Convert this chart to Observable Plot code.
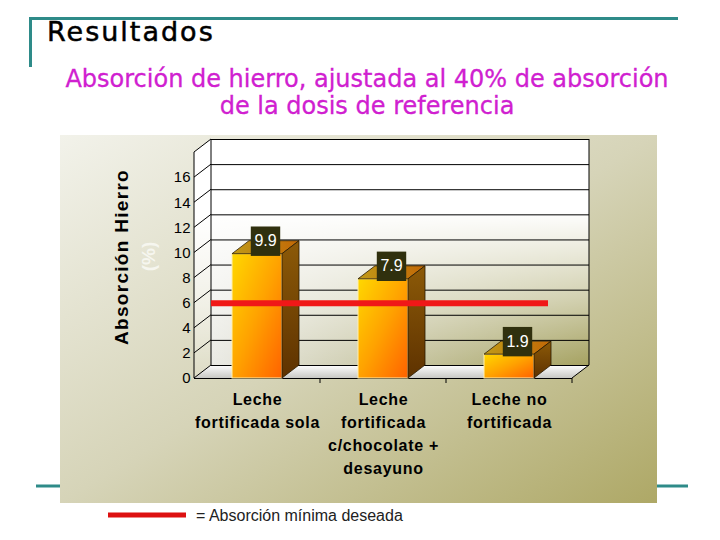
<!DOCTYPE html>
<html><head><meta charset="utf-8">
<script src="https://cdn.jsdelivr.net/npm/d3@7"></script>
<script src="https://cdn.jsdelivr.net/npm/@observablehq/plot@0.6"></script>
<style>
html,body{margin:0;padding:0;background:#fff;}
#page{position:relative;width:720px;height:540px;overflow:hidden;}
#bg{position:absolute;left:0;top:0;}
#chart{position:absolute;left:60px;top:135px;}
</style></head><body>
<div id="page"><svg id="bg" width="720" height="540"></svg><div id="chart"></div></div>
<script>
// ---- data ----
const titleText = "Resultados";
const subtitleLines = ["Absorción de hierro, ajustada al 40% de absorción", "de la dosis de referencia"];
const categories = ["Leche fortificada sola", "Leche fortificada c/chocolate + desayuno", "Leche no fortificada"];
const tickLabels = ["Leche\nfortificada sola", "Leche\nfortificada\nc/chocolate +\ndesayuno", "Leche no\nfortificada"];
const absorption = [9.9, 7.9, 1.9];
const minimumDesired = 6;
const yTicks = [0, 2, 4, 6, 8, 10, 12, 14, 16];
const gridTicks = [0, 2, 4, 6, 8, 10, 12, 14, 16, 18];
const yMax = 18;
const yTitle = "Absorción Hierro";
const yUnit = "(%)";
const legendLabel = "= Absorción mínima deseada";

// ---- styles ----
const teal = "#2e8b89";
const depth = {dx: 17, dy: -13};
const barInset = 38;
const W = 597, H = 368;

// ---- background page (header, decorative lines, legend) ----
const bg = d3.select("#bg");
bg.append("line").attr("x1", 29).attr("x2", 678).attr("y1", 18.5).attr("y2", 18.5).attr("stroke", teal).attr("stroke-width", 3);
bg.append("line").attr("x1", 30.5).attr("x2", 30.5).attr("y1", 17).attr("y2", 67).attr("stroke", teal).attr("stroke-width", 3);
bg.append("line").attr("x1", 36).attr("x2", 688).attr("y1", 486).attr("y2", 486).attr("stroke", teal).attr("stroke-width", 3);
bg.append("text").attr("x", 47).attr("y", 41).attr("font-family", "DejaVu Sans").attr("font-size", 27)
  .attr("letter-spacing", 2).attr("fill", "#000").attr("stroke", "#000").attr("stroke-width", 0.5).text(titleText);
subtitleLines.forEach((s, i) => bg.append("text").attr("x", 367).attr("y", 87 + i * 27)
  .attr("text-anchor", "middle").attr("font-family", "DejaVu Sans").attr("font-size", 24)
  .attr("fill", "#d020d0").attr("stroke", "#d020d0").attr("stroke-width", 0.3).text(s));
bg.append("line").attr("x1", 108).attr("x2", 186).attr("y1", 515).attr("y2", 515).attr("stroke", "#dd1111").attr("stroke-width", 5);
bg.append("text").attr("x", 196).attr("y", 521).attr("font-family", "Liberation Sans").attr("font-size", 16)
  .attr("fill", "#222").text(legendLabel);

// ---- chart ----
const data = categories.map((c, i) => ({category: c, value: absorption[i]}));
const labelOf = new Map(categories.map((c, i) => [c, tickLabels[i]]));

function defsMark() {
  const defs = d3.create("svg:defs");
  const lg = (id, x1, y1, x2, y2, stops) => {
    const g = defs.append("linearGradient").attr("id", id)
      .attr("x1", x1).attr("y1", y1).attr("x2", x2).attr("y2", y2);
    stops.forEach(([o, c, op = 1]) => g.append("stop").attr("offset", o).attr("stop-color", c).attr("stop-opacity", op));
  };
  lg("panelGrad", 0, 0, 1, 1, [[0, "#f2f2ea"], [0.5, "#d6d4b8"], [1, "#aea866"]]);
  lg("wallBase", 0, 0, 1, 0, [[0, "#e8e8e2"], [1, "#9c9850"]]);
  lg("wallShine", 0, 0, 0, 1, [[0, "#fff", 1], [0.32, "#fff", 1], [0.7, "#fff", 0.55], [1, "#fff", 0.1]]);
  lg("floorGrad", 0, 0, 0, 1, [[0, "#ffffff"], [1, "#c8c8c4"]]);
  lg("frontGrad", 0, 0, 1, 1, [[0, "#ffd800"], [0.5, "#ffa200"], [1, "#ff6200"]]);
  lg("topGrad", 0, 0, 1, 0, [[0, "#c09a18"], [1, "#c26806"]]);
  lg("sideGrad", 0, 0, 0, 1, [[0, "#8c5a08"], [1, "#5e3200"]]);
  return defs.node();
}

function panelMark(index, scales, values, dims) {
  return d3.create("svg:rect").attr("x", 0).attr("y", 0)
    .attr("width", dims.width).attr("height", dims.height).attr("fill", "url(#panelGrad)").node();
}

function wallsMark(index, {x, y}, values, {width, marginLeft, marginRight}) {
  const L = marginLeft, R = width - marginRight, b = y(0), t = y(yMax), {dx, dy} = depth;
  const g = d3.create("svg:g");
  g.append("rect").attr("x", L + dx).attr("y", t + dy).attr("width", R - L).attr("height", b - t).attr("fill", "url(#wallBase)");
  g.append("rect").attr("x", L + dx).attr("y", t + dy).attr("width", R - L).attr("height", b - t).attr("fill", "url(#wallShine)");
  g.append("path").attr("d", `M${L},${b}L${L},${t}L${L + dx},${t + dy}L${L + dx},${b + dy}Z`).attr("fill", "url(#wallShine)");
  g.append("path").attr("d", `M${L},${b}L${R},${b}L${R + dx},${b + dy}L${L + dx},${b + dy}Z`).attr("fill", "url(#floorGrad)");
  return g.node();
}

function wallLinesMark(index, {x, y}, values, {width, marginLeft, marginRight}) {
  const L = marginLeft, R = width - marginRight, b = y(0), t = y(yMax), {dx, dy} = depth;
  const g = d3.create("svg:g").attr("stroke", "#000").attr("stroke-width", 1).attr("fill", "none");
  let d = "";
  for (const v of gridTicks) d += `M${L},${y(v)}L${L + dx},${y(v) + dy}`;
  d += `M${L + dx},${t + dy}L${L + dx},${b + dy}`;
  d += `M${R + dx},${t + dy}L${R + dx},${b + dy}`;
  d += `M${L},${b}L${L},${t}`;
  d += `M${R},${b}L${R + dx},${b + dy}`;
  for (const c of categories) { const xx = x(c) + x.bandwidth(); d += `M${xx},${b}L${xx},${b + 5}`; }
  g.append("path").attr("d", d);
  return g.node();
}

function bars3dMark(index, {x, y}) {
  const {dx, dy} = depth;
  const g = d3.create("svg:g").attr("stroke", "#2a1a00").attr("stroke-width", 0.8).attr("stroke-linejoin", "round");
  for (const d of data) {
    const xl = x(d.category) + barInset, xr = x(d.category) + x.bandwidth() - barInset;
    const yv = y(d.value), y0 = y(0);
    g.append("path").attr("d", `M${xl},${yv}L${xr},${yv}L${xr + dx},${yv + dy}L${xl + dx},${yv + dy}Z`).attr("fill", "url(#topGrad)");
    g.append("path").attr("d", `M${xr},${yv}L${xr + dx},${yv + dy}L${xr + dx},${y0 + dy}L${xr},${y0}Z`).attr("fill", "url(#sideGrad)");
  }
  return g.node();
}

const chart = Plot.plot({
  width: W, height: H,
  marginLeft: 134, marginRight: 85, marginTop: 17, marginBottom: 125,
  style: {background: "transparent", fontFamily: "Liberation Sans, Arial, sans-serif", overflow: "visible"},
  x: {domain: categories, padding: 0},
  y: {domain: [0, yMax], nice: false},
  marks: [
    defsMark,
    panelMark,
    wallsMark,
    Plot.ruleY(gridTicks, {dx: depth.dx, dy: depth.dy, stroke: "#000", strokeWidth: 1}),
    wallLinesMark,
    Plot.ruleY([0], {stroke: "#000", strokeWidth: 1}),
    Plot.barY(data, {x: "category", y: "value", fill: "url(#frontGrad)", stroke: "#fff0b0", strokeWidth: 1,
      insetLeft: barInset, insetRight: barInset}),
    bars3dMark,
    Plot.ruleY([minimumDesired], {stroke: "#f01818", strokeWidth: 6, insetLeft: depth.dx, insetRight: 24}),
    Plot.dot(data, {x: "category", y: "value", symbol: "square", r: 16.6, fill: "#30300e", stroke: "none",
      dx: 8, dy: -13}),
    Plot.text(data, {x: "category", y: "value", text: d => d.value.toFixed(1), fill: "#fff", fontSize: 16,
      dx: 8, dy: -13}),
    Plot.axisY(yTicks, {tickSize: 0, tickPadding: 4, fontSize: 15, fill: "#000", label: null}),
    Plot.axisX({tickSize: 0, tickPadding: 10, fontSize: 16, fontWeight: "bold", fill: "#000",
      lineHeight: 1.4375, tickFormat: c => labelOf.get(c), label: null}),
    Plot.text([yTitle], {frameAnchor: "left", textAnchor: "middle", rotate: -90, dx: -73, dy: -8.5,
      fontSize: 19, fontWeight: "bold", fill: "#000"}),
    Plot.text([yUnit], {frameAnchor: "left", textAnchor: "middle", rotate: -90, dx: -45.5, dy: -9,
      fontSize: 19, fontWeight: "bold", fill: "#f6f6ef"})
  ]
});
document.getElementById("chart").appendChild(chart);
chart.querySelectorAll('[aria-label="x-axis tick label"]').forEach(n => n.style.letterSpacing = "0.7px");
chart.querySelectorAll("text").forEach(n => {
  if (n.textContent === yTitle) n.style.letterSpacing = "1.3px";
});
</script>
</body></html>
